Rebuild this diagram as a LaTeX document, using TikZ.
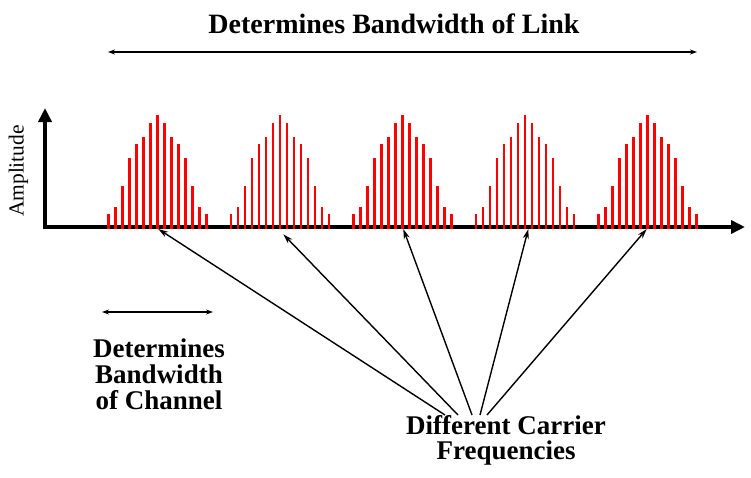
\documentclass[tikz,border=0pt]{standalone}
\usepackage{fontspec}
\setmainfont{Liberation Serif}
\usetikzlibrary{arrows.meta}
\begin{document}
\begin{tikzpicture}[x=1pt,y=-1pt,
  bar/.style={draw=red, line width=2.6pt},
  axisline/.style={line width=4pt, line join=miter, {Triangle[length=14pt,width=13pt]}-{Triangle[length=14pt,width=13pt]}},
  span/.style={line width=1.1pt, {Stealth[length=7pt,width=5pt]}-{Stealth[length=7pt,width=5pt]}},
  pointer/.style={line width=1.4pt, -{Stealth[length=10pt,width=6pt]}},
  label/.style={font=\fontsize{27}{26}\selectfont\bfseries, align=center, inner sep=0pt}]
\useasboundingbox (0,0) rectangle (751,477);
% axes
\coordinate (ytop) at (45,108);
\coordinate (orig) at (45,227);
\coordinate (xend) at (745,227);
\draw[axisline] (ytop) -- (orig) -- (xend);
% spectral bars
\foreach \k in {0,...,4}{
  \foreach \o/\t in {-49/214.3,-42/207.3,-35/186,-28/158.3,-21/144.3,-14/137.3,-7/123.3,0/115,7/123.3,14/137.3,21/144.3,28/158.3,35/186,42/207.3,49/214.3}{
    \draw[bar] ({157.3+122.5*\k+\o},229) -- ({157.3+122.5*\k+\o},\t);
  }
}
% labels
\node[rotate=90, font=\fontsize{21.5}{24}\selectfont, inner sep=0pt] (amp) at (18.5,171) {Amplitude};
\node[font=\fontsize{28}{28}\selectfont\bfseries, anchor=base, inner sep=0pt] (title) at (394,33) {Determines Bandwidth of Link};
\coordinate (linkL) at (108,52);
\coordinate (linkR) at (697,52);
\draw[span] (linkL) -- (linkR);
\node[label, anchor=north] (chan) at (159,339) {Determines\\Bandwidth\\of Channel};
\coordinate (chanL) at (102,312);
\coordinate (chanR) at (213,312);
\draw[span] (chanL) -- (chanR);
\node[label, font=\fontsize{27}{25}\selectfont\bfseries, anchor=north] (carrier) at (506,415) {Different Carrier\\Frequencies};
% pointers
\coordinate (t1) at (445,415);
\coordinate (t2) at (458,415);
\coordinate (t3) at (472,415);
\coordinate (t4) at (480,415);
\coordinate (t5) at (487,415);
\coordinate (h1) at (158.3,229);
\coordinate (h2) at (283.3,234.3);
\coordinate (h3) at (403.3,229);
\coordinate (h4) at (528.3,229);
\coordinate (h5) at (646.7,229);
\foreach \i in {1,...,5}{
  \draw[pointer] (t\i) -- (h\i);
}
\end{tikzpicture}
\end{document}
